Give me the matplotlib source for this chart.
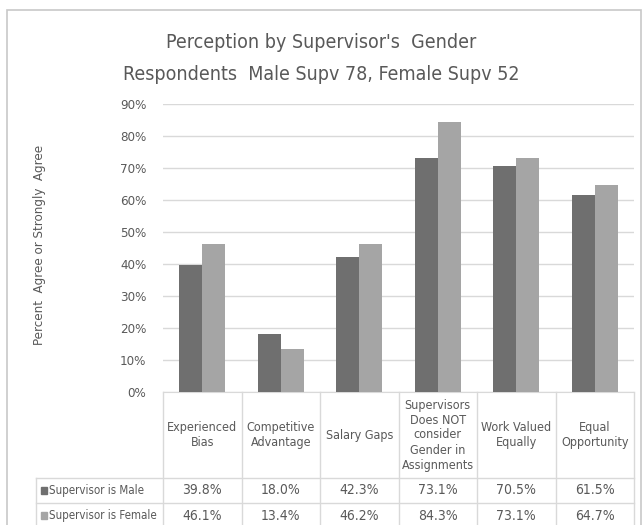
import matplotlib.pyplot as plt
from matplotlib.patches import Rectangle
from matplotlib.lines import Line2D
import numpy as np

plt.rcParams['font.family'] = ['DejaVu Sans']
plt.rcParams['font.stretch'] = 'condensed'

# 데이터
categories = ["Experienced\nBias", "Competitive\nAdvantage", "Salary Gaps",
              "Supervisors\nDoes NOT\nconsider\nGender in\nAssignments",
              "Work Valued\nEqually", "Equal\nOpportunity"]
series_names = ["Supervisor is Male", "Supervisor is Female"]
male = [0.398, 0.180, 0.423, 0.731, 0.705, 0.615]
female = [0.461, 0.134, 0.462, 0.843, 0.731, 0.647]
y_ticks = [0, 0.1, 0.2, 0.3, 0.4, 0.5, 0.6, 0.7, 0.8, 0.9]

colors = ["#6f6f6f", "#a5a5a5"]
txt = "#595959"
grid = "#d9d9d9"

W, H = 643, 525
fig = plt.figure(figsize=(W / 100, H / 100), dpi=100)

def fx(px):
    return px / W

def fy(py):
    return 1 - py / H

# 차트 테두리
fig.patches.append(Rectangle((fx(7), fy(540)), fx(634), fy(10) - fy(540),
                             transform=fig.transFigure, fill=False,
                             edgecolor="#c8c8c8", lw=1.2))

# 플롯 영역
left, right, top, bottom = 163, 634, 104, 392
ax = fig.add_axes([fx(left), fy(bottom), fx(right - left), fy(top) - fy(bottom)])

x = np.arange(len(categories))
bw = 0.293
ax.bar(x - bw / 2, male, bw, color=colors[0], zorder=3)
ax.bar(x + bw / 2, female, bw, color=colors[1], zorder=3)

ax.set_xlim(-0.5, len(categories) - 0.5)
ax.set_ylim(0, 0.9)
ax.set_yticks(y_ticks)
ax.set_yticklabels([f"{int(round(v * 100))}%" for v in y_ticks], color=txt, fontsize=9.5)
ax.tick_params(axis="y", length=0, pad=12)
ax.set_xticks([])
ax.grid(axis="y", color=grid, lw=1, zorder=0)
for s in ["top", "right", "left"]:
    ax.spines[s].set_visible(False)
ax.spines["bottom"].set_color(grid)

fig.text(fx(40), fy(245), "Percent  Agree or Strongly  Agree", rotation=90,
         ha="center", va="center", color=txt, fontsize=9.5)

# 제목
fig.text(0.5, fy(42), "Perception by Supervisor's  Gender", ha="center", va="center",
         color=txt, fontsize=14)
fig.text(0.5, fy(75), "Respondents  Male Supv 78, Female Supv 52", ha="center", va="center",
         color=txt, fontsize=14)

# 데이터 테이블
col_w = (right - left) / len(categories)
row1, row2, row3 = 478, 503, 528
table_left = 36
lines = []
for i in range(len(categories) + 1):
    xp = left + i * col_w
    lines.append(((xp, xp), (bottom, row3)))
lines.append(((table_left, table_left), (row1, row3)))
for yp in [row1, row2, row3]:
    lines.append(((table_left, right), (yp, yp)))
for xs, ys in lines:
    fig.add_artist(Line2D([fx(v) for v in xs], [fy(v) for v in ys],
                          transform=fig.transFigure, color=grid, lw=1))

for i, cat in enumerate(categories):
    cx = left + (i + 0.5) * col_w
    fig.text(fx(cx), fy((bottom + row1) / 2), cat, ha="center", va="center",
             color=txt, fontsize=9, linespacing=1.2)
    fig.text(fx(cx), fy((row1 + row2) / 2), f"{male[i] * 100:.1f}%", ha="center",
             va="center", color=txt, fontsize=10)
    fig.text(fx(cx), fy((row2 + row3) / 2), f"{female[i] * 100:.1f}%", ha="center",
             va="center", color=txt, fontsize=10)

for j, (name, c) in enumerate(zip(series_names, colors)):
    yc = (row1 + row2) / 2 if j == 0 else (row2 + row3) / 2
    fig.patches.append(Rectangle((fx(41), fy(yc + 3.5)), fx(6), fy(yc - 3.5) - fy(yc + 3.5),
                                 transform=fig.transFigure, color=c))
    fig.text(fx(49), fy(yc), name, ha="left", va="center", color=txt, fontsize=8.3)

fig.savefig("out.png", dpi=100)
